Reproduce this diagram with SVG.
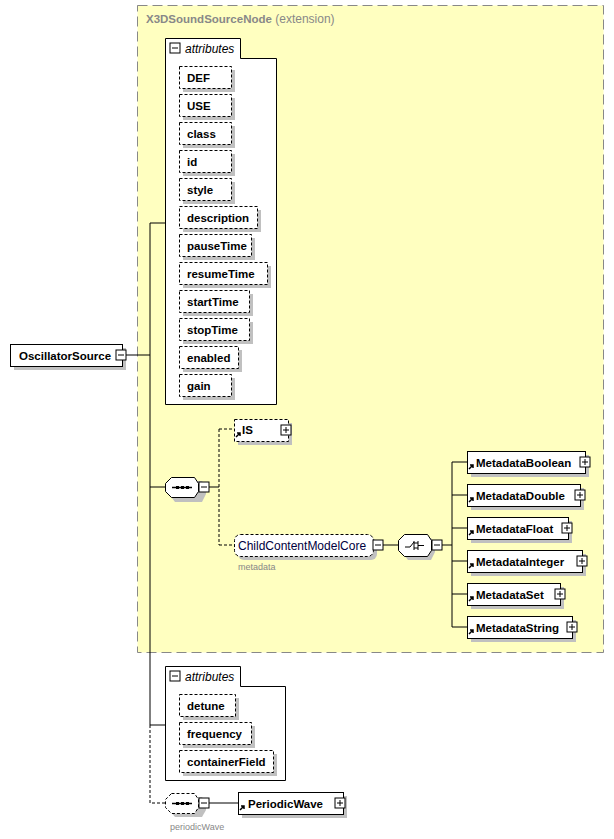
<svg xmlns="http://www.w3.org/2000/svg" width="614" height="839" viewBox="0 0 614 839">
<style>
text{font-family:"Liberation Sans",Arial,sans-serif;font-size:12px;fill:#000}
.b{font-weight:bold;font-size:11.5px}
.n{fill:#fff;stroke:#000;stroke-width:1}
.d{fill:#fff;stroke:#000;stroke-width:1;stroke-dasharray:3,2}
.sh{fill:#c0c0c0}
.ln{stroke:#000;fill:none}
.dl{stroke:#000;fill:none;stroke-dasharray:3,2}
.g{fill:#888;font-size:9px}
.pm{fill:#fff;stroke:#000}
</style>
<defs>
<g id="minus"><rect class="pm" x="0" y="0" width="10" height="10"/><path class="ln" d="M2 5H8"/></g>
<g id="plus"><rect class="pm" x="0" y="0" width="10" height="10"/><path class="ln" d="M2 5H8M5 2V8"/></g>
<path id="arr" d="M0 5L4 1M1 1H4V4" stroke="#000" stroke-width="1.5" fill="none"/>
</defs>
<rect width="614" height="839" fill="#fff"/>
<g id="extension">
<rect x="137.5" y="5.5" width="466" height="647" fill="#ffffc0" stroke="#888" stroke-dasharray="10,5"/>
<text x="146" y="23" style="fill:#888"><tspan class="b" style="fill:#888">X3DSoundSourceNode</tspan> (extension)</text>
</g>
<g id="connectors">
<path class="ln" d="M126 355H150M150 223V725M150 223H165M150 487H165M150 725H165M209 487H219M383 545H398M442 545H452M452 462V627M452 462H467M452 495H467M452 528H467M452 561H467M452 594H467M452 627H467M209 803H238"/>
<path class="dl" d="M150 725V803H165M219 429V545M219 429H234M219 545H234"/>
</g>
<g id="attributes1">
<path class="n" d="M165.5 404.5V38.5H240.5V58.5H276.5V404.5Z"/>
<use href="#minus" x="170" y="43"/>
<text x="185" y="53" font-style="italic">attributes</text>
</g>
<g id="attrs">
<g id="DEF"><rect class="sh" x="183" y="70" width="52" height="22"/><rect class="d" x="179.5" y="66.5" width="52" height="22"/><text class="b" x="187" y="82">DEF</text></g>
<g id="USE"><rect class="sh" x="183" y="98" width="52" height="22"/><rect class="d" x="179.5" y="94.5" width="52" height="22"/><text class="b" x="187" y="110">USE</text></g>
<g id="class"><rect class="sh" x="183" y="126" width="52" height="22"/><rect class="d" x="179.5" y="122.5" width="52" height="22"/><text class="b" x="187" y="138">class</text></g>
<g id="id"><rect class="sh" x="183" y="154" width="52" height="22"/><rect class="d" x="179.5" y="150.5" width="52" height="22"/><text class="b" x="187" y="166">id</text></g>
<g id="style"><rect class="sh" x="183" y="182" width="52" height="22"/><rect class="d" x="179.5" y="178.5" width="52" height="22"/><text class="b" x="187" y="194">style</text></g>
<g id="description"><rect class="sh" x="183" y="210" width="78" height="22"/><rect class="d" x="179.5" y="206.5" width="78" height="22"/><text class="b" x="187" y="222">description</text></g>
<g id="pauseTime"><rect class="sh" x="183" y="238" width="72" height="22"/><rect class="d" x="179.5" y="234.5" width="72" height="22"/><text class="b" x="187" y="250">pauseTime</text></g>
<g id="resumeTime"><rect class="sh" x="183" y="266" width="88" height="22"/><rect class="d" x="179.5" y="262.5" width="88" height="22"/><text class="b" x="187" y="278">resumeTime</text></g>
<g id="startTime"><rect class="sh" x="183" y="294" width="70" height="22"/><rect class="d" x="179.5" y="290.5" width="70" height="22"/><text class="b" x="187" y="306">startTime</text></g>
<g id="stopTime"><rect class="sh" x="183" y="322" width="70" height="22"/><rect class="d" x="179.5" y="318.5" width="70" height="22"/><text class="b" x="187" y="334">stopTime</text></g>
<g id="enabled"><rect class="sh" x="183" y="350" width="59" height="22"/><rect class="d" x="179.5" y="346.5" width="59" height="22"/><text class="b" x="187" y="362">enabled</text></g>
<g id="gain"><rect class="sh" x="183" y="378" width="52" height="22"/><rect class="d" x="179.5" y="374.5" width="52" height="22"/><text class="b" x="187" y="390">gain</text></g>
</g>
<g id="OscillatorSource">
<rect class="sh" x="14" y="348" width="112" height="22"/>
<rect class="n" x="10.5" y="344.5" width="112" height="22"/>
<text class="b" x="19" y="360">OscillatorSource</text>
<use href="#minus" x="116" y="350"/>
</g>
<g id="sequence1">
<path class="sh" d="M175 481H202L206 487V494L202 502H175L169 494V487Z"/>
<path class="n" d="M171.5 477.5H194.5L198.5 483.5V491.5L194.5 497.5H171.5L165.5 491.5V483.5Z"/>
<path class="ln" d="M172 487.5H192" stroke-width="1.5"/><path d="M176 486h3v3h-3zM181 486h3v3h-3zM186 486h3v3h-3z"/>
<use href="#minus" x="199" y="482"/>
</g>
<g id="IS">
<rect class="sh" x="238" y="423" width="54" height="22"/>
<rect class="d" x="234.5" y="419.5" width="54" height="22"/>
<use href="#arr" x="236" y="432"/>
<text class="b" x="242" y="434">IS</text>
<use href="#plus" x="281" y="425"/>
</g>
<g id="ChildContentModelCore">
<rect class="sh" x="238" y="538" width="139" height="22" rx="6"/>
<rect class="d" x="234.5" y="534.5" width="139" height="22" rx="6"/>
<text x="238" y="550" style="fill:#000040">ChildContentModelCore</text>
<use href="#minus" x="373" y="540"/>
<text class="g" x="238" y="570">metadata</text>
</g>
<g id="choice">
<path class="sh" d="M408 538H431L435 544V552L431 560H408L402 552V544Z"/>
<path class="n" d="M404.5 534.5H427.5L431.5 540.5V550.5L427.5 556.5H404.5L398.5 550.5V540.5Z"/>
<path class="ln" d="M405 547H410L414 542M414 541V550M414 543H418M414 548H418M418 541V550M418 545.5H424"/>
<use href="#minus" x="432" y="540"/>
</g>
<g id="MetadataBoolean"><rect class="sh" x="471" y="455" width="118" height="22"/><rect class="n" x="467.5" y="451.5" width="118" height="22"/><use href="#arr" x="469" y="464"/><text class="b" x="476" y="467">MetadataBoolean</text><use href="#plus" x="580" y="457"/></g>
<g id="MetadataDouble"><rect class="sh" x="471" y="488" width="113" height="22"/><rect class="n" x="467.5" y="484.5" width="113" height="22"/><use href="#arr" x="469" y="497"/><text class="b" x="476" y="500">MetadataDouble</text><use href="#plus" x="575" y="490"/></g>
<g id="MetadataFloat"><rect class="sh" x="471" y="521" width="101" height="22"/><rect class="n" x="467.5" y="517.5" width="101" height="22"/><use href="#arr" x="469" y="530"/><text class="b" x="476" y="533">MetadataFloat</text><use href="#plus" x="562" y="523"/></g>
<g id="MetadataInteger"><rect class="sh" x="471" y="554" width="115" height="22"/><rect class="n" x="467.5" y="550.5" width="115" height="22"/><use href="#arr" x="469" y="563"/><text class="b" x="476" y="566">MetadataInteger</text><use href="#plus" x="577" y="556"/></g>
<g id="MetadataSet"><rect class="sh" x="471" y="587" width="93" height="22"/><rect class="n" x="467.5" y="583.5" width="93" height="22"/><use href="#arr" x="469" y="596"/><text class="b" x="476" y="599">MetadataSet</text><use href="#plus" x="555" y="589"/></g>
<g id="MetadataString"><rect class="sh" x="471" y="620" width="105" height="22"/><rect class="n" x="467.5" y="616.5" width="105" height="22"/><use href="#arr" x="469" y="629"/><text class="b" x="476" y="632">MetadataString</text><use href="#plus" x="567" y="622"/></g>
<g id="attributes2">
<path class="n" d="M165.5 780.5V666.5H240.5V686.5H285.5V780.5Z"/>
<use href="#minus" x="170" y="671"/>
<text x="185" y="681" font-style="italic">attributes</text>
<g id="detune"><rect class="sh" x="183" y="698" width="56" height="22"/><rect class="d" x="179.5" y="694.5" width="56" height="22"/><text class="b" x="187" y="710">detune</text></g>
<g id="frequency"><rect class="sh" x="183" y="726" width="72" height="22"/><rect class="d" x="179.5" y="722.5" width="72" height="22"/><text class="b" x="187" y="738">frequency</text></g>
<g id="containerField"><rect class="sh" x="183" y="754" width="94" height="22"/><rect class="d" x="179.5" y="750.5" width="94" height="22"/><text class="b" x="187" y="766">containerField</text></g>
</g>
<g id="sequence2">
<path class="sh" d="M175 797H202L206 803V810L202 817H175L169 810V803Z"/>
<path class="d" d="M171.5 793.5H194.5L198.5 799.5V807.5L194.5 813.5H171.5L165.5 807.5V799.5Z"/>
<path class="ln" d="M172 803.5H192" stroke-width="1.5"/><path d="M176 802h3v3h-3zM181 802h3v3h-3zM186 802h3v3h-3z"/>
<use href="#minus" x="199" y="798"/>
<text class="g" x="170" y="830">periodicWave</text>
</g>
<g id="PeriodicWave">
<rect class="sh" x="242" y="796" width="105" height="22"/>
<rect class="n" x="238.5" y="792.5" width="105" height="22"/>
<use href="#arr" x="240" y="805"/>
<text class="b" x="248" y="808">PeriodicWave</text>
<use href="#plus" x="335" y="798"/>
</g>
</svg>
